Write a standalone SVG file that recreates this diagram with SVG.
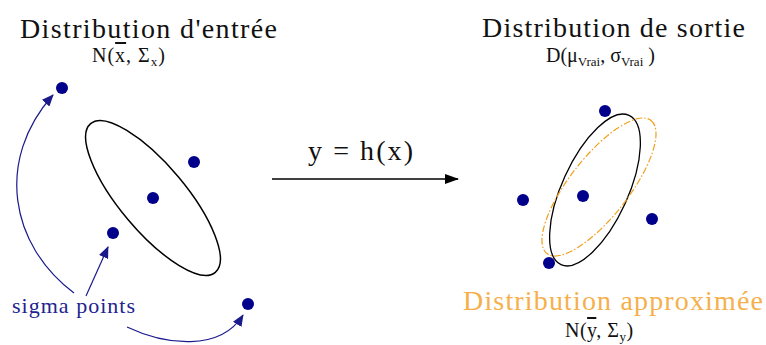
<svg xmlns="http://www.w3.org/2000/svg" width="766" height="345" viewBox="0 0 766 345">
<style>
text{font-family:"Liberation Serif","DejaVu Serif",serif;fill:#111}
.t{font-size:28px}
.m{font-size:20px}
.s{font-size:13px}
.dot{fill:#00008b}
.blue{stroke:#1a1a8c;stroke-width:1.2;fill:none}
</style>
<defs>
<marker id="ab" markerWidth="12" markerHeight="10" refX="11" refY="5" orient="auto" markerUnits="userSpaceOnUse">
<path d="M0,0 L12,5 L0,10 Z" fill="#1a1a8c"/>
</marker>
<marker id="ak" markerWidth="14" markerHeight="10" refX="13" refY="5" orient="auto" markerUnits="userSpaceOnUse">
<path d="M0,0 L14,5 L0,10 Z" fill="#000"/>
</marker>
</defs>
<g id="input">
<text class="t" x="20" y="38" textLength="257" lengthAdjust="spacing">Distribution d'entrée</text>
<text class="m" x="92" y="62" letter-spacing="1">N(<tspan text-decoration="overline">x</tspan>, Σ<tspan class="s" dy="4">x</tspan><tspan dy="-4">)</tspan></text>
<ellipse cx="153" cy="198" rx="97" ry="33" transform="rotate(50 153 198)" fill="none" stroke="#000" stroke-width="1.5"/>
<circle class="dot" cx="62" cy="88" r="6"/>
<circle class="dot" cx="194" cy="162" r="6"/>
<circle class="dot" cx="153" cy="198" r="6"/>
<circle class="dot" cx="113" cy="233" r="6"/>
<circle class="dot" cx="248" cy="304" r="6"/>
</g>
<g id="output">
<text class="t" x="482" y="37" textLength="263" lengthAdjust="spacing">Distribution de sortie</text>
<text class="m" x="546" y="62">D(μ<tspan class="s" dy="4">Vrai</tspan><tspan dy="-4">, σ</tspan><tspan class="s" dy="4">Vrai</tspan><tspan dy="-4"> )</tspan></text>
<ellipse cx="595" cy="190" rx="82" ry="33" transform="rotate(-65.5 595 190)" fill="none" stroke="#000" stroke-width="1.3"/>
<ellipse cx="599" cy="187" rx="84.5" ry="29.6" transform="rotate(-52 599 187)" fill="none" stroke="#f0a020" stroke-width="1.2" stroke-dasharray="7 2 1.5 2"/>
<circle class="dot" cx="605" cy="111" r="6"/>
<circle class="dot" cx="523" cy="200" r="6"/>
<circle class="dot" cx="583" cy="196" r="6"/>
<circle class="dot" cx="652" cy="219" r="6"/>
<circle class="dot" cx="549" cy="263" r="6"/>
</g>
<g id="approx">
<text class="t" x="463" y="310" textLength="300" lengthAdjust="spacing" style="fill:#f5b04c">Distribution approximée</text>
<text class="m" x="565" y="337" letter-spacing="0.5">N(<tspan text-decoration="overline">y</tspan>,  Σ<tspan class="s" dy="4">y</tspan><tspan dy="-4">)</tspan></text>
</g>
<g id="sigma">
<text x="12" y="313" textLength="123" lengthAdjust="spacing" style="font-size:22px;fill:#23238f">sigma points</text>
</g>
<g id="connectors">
<line x1="272" y1="179" x2="458" y2="179" stroke="#000" stroke-width="1.6" marker-end="url(#ak)"/>
<text class="t" x="308" y="160" textLength="105" lengthAdjust="spacing">y = h(x)</text>
<path class="blue" d="M74,293 C 10,245 -5,160 53,95" marker-end="url(#ab)"/>
<path class="blue" d="M86,296 L108,247" marker-end="url(#ab)"/>
<path class="blue" d="M127,327 C 165,345 220,352 243,315" marker-end="url(#ab)"/>
</g>
</svg>
